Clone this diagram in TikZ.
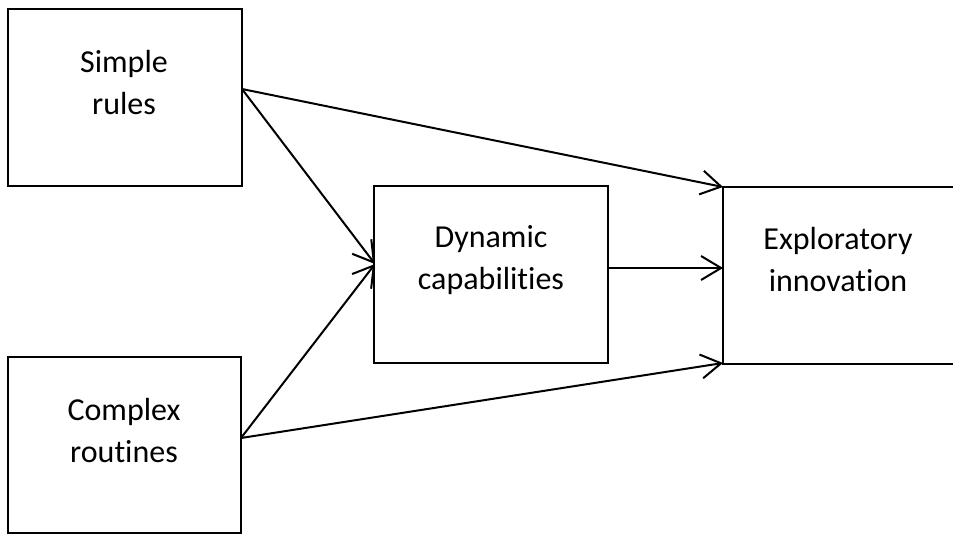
\documentclass[tikz,border=0pt]{standalone}
\usepackage{fontspec}
\setmainfont{Carlito}[Ligatures=NoCommon]
\usetikzlibrary{arrows.meta}
\begin{document}
\begin{tikzpicture}[x=1pt,y=-1pt,
  box/.style={draw=black,line width=2pt,fill=white},
  lbl/.style={align=center,font=\fontsize{32}{42}\selectfont,inner sep=0pt},
  link/.style={line width=2pt,-{Straight Barb[length=20pt,width=24pt,line width=2pt]}}]
\useasboundingbox (0,0) rectangle (953,535);
\clip (0,0) rectangle (953,535);
% boxes
\draw[box] (8,9) rectangle (242,186);
\draw[box] (8,357) rectangle (241,533);
\draw[box] (374,186) rectangle (608,363);
\draw[box] (723,187) rectangle (960,364);
% labels
\node[lbl] (simple) at (124,83) {Simple\\rules};
\node[lbl] (complex) at (124,431) {Complex\\routines};
\node[lbl] (dynamic) at (491,260) {Dynamic\\capabilities};
\node[lbl] (explor) at (838,260) {Exploratory\\innovation};
% anchor points on the box edges
\coordinate (sr) at (242,89);
\coordinate (cr) at (241,438);
\coordinate (dl) at (375,264);
\coordinate (dr) at (608,268);
\coordinate (et) at (723,187);
\coordinate (em) at (723,268);
\coordinate (eb) at (723,363);
% connectors
\draw[link] (sr) -- (et);
\draw[link] (sr) -- (dl);
\draw[link] (cr) -- (dl);
\draw[link] (cr) -- (eb);
\draw[link] (dr) -- (em);
\end{tikzpicture}
\end{document}
